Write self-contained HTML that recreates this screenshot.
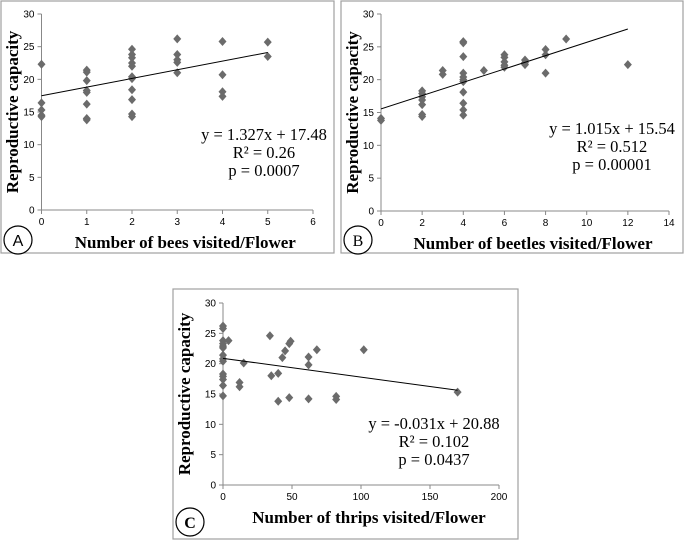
<!DOCTYPE html>
<html><head><meta charset="utf-8"><style>
body{margin:0;background:#fff;width:685px;height:540px;overflow:hidden}
svg text{fill:#000}
</style></head><body>
<svg id="s" width="685" height="540" xmlns="http://www.w3.org/2000/svg"></svg>
<script>
const aX=[0,0,0,0,0,1,1,1,1,1,1,1,1,2,2,2,2,2,2,2,2,2,2,2,3,3,3,3,3,4,4,4,4,5,5];
const aY=[22.3,16.4,15.3,14.5,14.3,21.4,21.1,19.8,18.3,18.0,16.2,14.0,13.8,24.6,23.8,23.3,22.5,22.0,20.4,20.1,18.4,16.9,14.7,14.3,26.2,23.8,23.0,22.6,21.0,25.8,20.7,18.1,17.4,25.7,23.5];
const bX=[0,0,2,2,2,2,2,2,2,3,3,4,4,4,4,4,4,4,4,4,4,4,5,6,6,6,6,6,7,7,7,8,8,8,9,12];
const bY=[14.1,13.8,18.3,17.9,17.4,16.9,16.2,14.7,14.4,21.4,20.8,25.8,25.6,23.5,21.0,20.4,20.0,19.7,18.1,16.4,15.4,14.6,21.4,23.8,23.4,22.7,22.2,21.9,23.0,22.6,22.3,24.6,23.8,21.0,26.2,22.3];
const cX=[0,0,0,0,0,0,0,0,0,0,0,0,0,0,4,12,12,15,34,35,40,40,43,45,48,48,49,62,62,62,68,82,82,102,170];
const cY=[26.2,25.8,23.8,23.3,22.9,22.6,21.4,20.8,20.4,18.3,17.9,17.4,16.4,14.7,23.8,16.9,16.2,20.1,24.6,18.0,18.4,13.8,21.0,22.1,14.4,23.3,23.7,21.1,19.8,14.2,22.3,14.6,14.1,22.3,15.3];
const aTicks=[0,1,2,3,4,5,6], bTicks=[0,2,4,6,8,10,12,14], cTicks=[0,50,100,150,200];
const yTicks=[0,5,10,15,20,25,30];
const fits={a:[1.327,17.48,0,5],b:[1.015,15.54,0,12],c:[-0.031,20.88,0,170]};
const S=document.getElementById('s'),NS='http://www.w3.org/2000/svg';
function el(t,a,p){const e=document.createElementNS(NS,t);for(const k in a)e.setAttribute(k,a[k]);(p||S).appendChild(e);return e;}
function panel(id,fr,x0,x1,y0,y1,xmax,xs,ys,xt,fit,eq,xtitle,letter,lc){
  const g=el('g',{});
  
  
  const f=el('rect',{x:fr[0],y:fr[1],width:fr[2],height:fr[3],fill:'none',stroke:'#a0a0a0','stroke-width':1.2},g);
  
  const X=v=>x0+(x1-x0)*v/xmax, Y=v=>y0-(y0-y1)*v/30;
  const ax=el('line',{x1:x0,y1:y0,x2:x1,y2:y0,stroke:'#888'},g);
  
  const ay=el('line',{x1:x0,y1:y0,x2:x0,y2:y1,stroke:'#888'},g);
  
  xt.forEach(v=>{el('line',{x1:X(v),y1:y0,x2:X(v),y2:y0+4,stroke:'#888'},g);
    const t=el('text',{x:X(v),y:y0+15,'text-anchor':'middle','font-family':'Liberation Sans','font-size':10},g);t.textContent=v;
    });
  yTicks.forEach(v=>{el('line',{x1:x0-4,y1:Y(v),x2:x0,y2:Y(v),stroke:'#888'},g);
    const t=el('text',{x:x0-7,y:Y(v)+3.5,'text-anchor':'end','font-family':'Liberation Sans','font-size':10},g);t.textContent=v;
    });
  xs.forEach((v,i)=>{const cx=X(v),cy=Y(ys[i]);
    const p=el('polygon',{points:`${cx},${cy-4.5} ${cx+4},${cy} ${cx},${cy+4.5} ${cx-4},${cy}`,fill:'#6b6b6b'},g);
    });
  const l=el('line',{x1:X(fit[2]),y1:Y(fit[0]*fit[2]+fit[1]),x2:X(fit[3]),y2:Y(fit[0]*fit[3]+fit[1]),stroke:'#000','stroke-width':1},g);
  
  eq.forEach((s,i)=>{const t=el('text',{x:eq.cx,y:eq.cy+i*18,'text-anchor':'middle','font-family':'Liberation Serif','font-size':16.5},g);t.textContent=s;
    });
  const xtt=el('text',{x:(x0+x1)/2+8,y:y0+38,'text-anchor':'middle','font-family':'Liberation Serif','font-size':17,'font-weight':'bold'},g);xtt.textContent=xtitle;
  
  const yt=el('text',{x:0,y:0,transform:`translate(${fr[0]+17},${(y0+y1)/2}) rotate(-90)`,'text-anchor':'middle','font-family':'Liberation Serif','font-size':17,'font-weight':'bold'},g);yt.textContent='Reproductive capacity';
  
  const c=el('circle',{cx:lc[0],cy:lc[1],r:14,fill:'#fff',stroke:'#000','stroke-width':1.2},g);
  
  const lt=el('text',{x:lc[0],y:lc[1]+6,'text-anchor':'middle','font-family':lc[2],'font-size':16,'font-weight':lc[3]},g);lt.textContent=letter;
  
}
let e1=['y = 1.327x + 17.48','R² = 0.26','p = 0.0007'];e1.cx=264;e1.cy=140;
panel('a',[1,1,333,252],41.5,313,210,14,6,aX,aY,aTicks,fits.a,e1,'Number of bees visited/Flower','A',[18,240,'Liberation Sans','normal']);
let e2=['y = 1.015x + 15.54','R² = 0.512','p = 0.00001'];e2.cx=612;e2.cy=134;
panel('b',[341,1,342,252],381,669,211,14,14,bX,bY,bTicks,fits.b,e2,'Number of beetles visited/Flower','B',[358,240,'Liberation Serif','normal']);
let e3=['y = -0.031x + 20.88','R² = 0.102','p = 0.0437'];e3.cx=434;e3.cy=429;
panel('c',[173,289,345,250],223,499,485,303,200,cX,cY,cTicks,fits.c,e3,'Number of thrips visited/Flower','C',[190,522,'Liberation Serif','bold']);
</script>
</body></html>
